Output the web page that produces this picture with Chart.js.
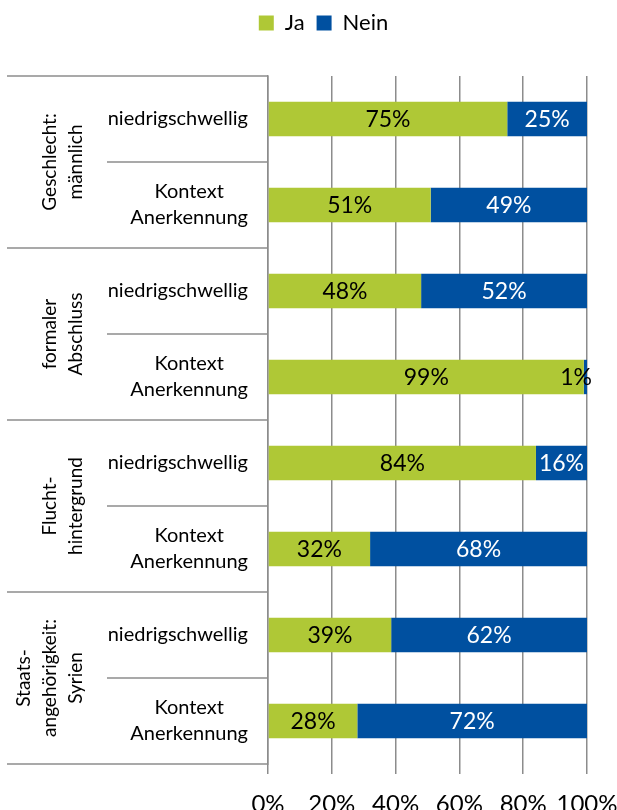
<!DOCTYPE html>
<html lang="de">
<head>
<meta charset="UTF-8">
<title>Ja / Nein</title>
<style>
  html, body { margin: 0; padding: 0; background: #fff; overflow: hidden; }
  #wrap { width: 617px; height: 830px; }
</style>
</head>
<body>
<div id="wrap"><canvas id="chart" width="617" height="830"></canvas></div>
<script src="https://cdn.jsdelivr.net/npm/chart.js@4.4.1/dist/chart.umd.min.js"></script>
<script>
// group labels (rotated, left column)
var groups = [
  ['Geschlecht:', 'männlich'],
  ['formaler', 'Abschluss'],
  ['Flucht-', 'hintergrund'],
  ['Staats-', 'angehörigkeit:', 'Syrien']
];
// one entry per bar, top to bottom
var categories = [
  ['niedrigschwellig'], ['Kontext', 'Anerkennung'],
  ['niedrigschwellig'], ['Kontext', 'Anerkennung'],
  ['niedrigschwellig'], ['Kontext', 'Anerkennung'],
  ['niedrigschwellig'], ['Kontext', 'Anerkennung']
];
var ja   = [75, 51, 48, 99, 84, 32, 39, 28];
var nein = [25, 49, 52,  1, 16, 68, 62, 72];
var xTicks = [0, 20, 40, 60, 80, 100];

var green = '#AFC836';
var blue = '#0050A0';
var lineColor = '#8c8c8c';
var fontFamily = 'Lato, "Noto Sans", sans-serif';

// 100% stacked: each row normalised to its own sum
function share(arr, i) {
  return arr[i] / (ja[i] + nein[i]) * 100;
}
var jaShare = ja.map(function(v, i) { return share(ja, i); });
var neinShare = nein.map(function(v, i) { return share(nein, i); });

var legendSpace = {
  id: 'legendSpace',
  beforeInit: function(chart) {
    if (!chart.legend) return;
    var fit = chart.legend.fit;
    chart.legend.fit = function() {
      fit.call(this);
      this.height = 76;
    };
  }
};

var barLabels = {
  id: 'barLabels',
  afterDatasetsDraw: function(chart) {
    var ctx = chart.ctx, area = chart.chartArea;
    var raw = [ja, nein];
    var colors = ['#000', '#fff'];
    ctx.save();
    ctx.font = '23px ' + fontFamily;
    ctx.textAlign = 'center';
    ctx.textBaseline = 'middle';
    chart.data.datasets.forEach(function(ds, di) {
      chart.getDatasetMeta(di).data.forEach(function(bar, i) {
        var txt = raw[di][i] + '%';
        var w = ctx.measureText(txt).width;
        var l = Math.min(bar.x, bar.base), r = Math.max(bar.x, bar.base);
        var cx = (l + r) / 2;
        var col = colors[di];
        if (r - l < w) {
          col = '#000';
          cx = Math.min(cx, area.right + 5 - w / 2);
        }
        ctx.fillStyle = col;
        ctx.fillText(txt, cx, bar.y + 1);
      });
    });
    ctx.restore();
  }
};

var sideLabels = {
  id: 'sideLabels',
  afterDraw: function(chart) {
    var ctx = chart.ctx, area = chart.chartArea, yScale = chart.scales.y;
    var n = categories.length;
    var step = (area.bottom - area.top) / n;
    ctx.save();
    ctx.strokeStyle = lineColor;
    ctx.lineWidth = 1.5;
    for (var i = 0; i <= n; i++) {
      var yy = area.top + i * step;
      var x0 = (i % 2 === 0) ? area.left - 261 : area.left - 161;
      ctx.beginPath();
      ctx.moveTo(x0, yy);
      ctx.lineTo(area.left, yy);
      ctx.stroke();
    }

    ctx.fillStyle = '#000';
    ctx.textAlign = 'center';
    ctx.textBaseline = 'middle';
    var lh = 26;

    // sub categories: block right aligned, lines centred in block
    ctx.font = '20px ' + fontFamily;
    categories.forEach(function(lines, i) {
      var cy = yScale.getPixelForValue(i);
      var bw = Math.max.apply(null, lines.map(function(t) { return ctx.measureText(t).width; }));
      var cx = area.left - 20 - bw / 2;
      lines.forEach(function(t, k) {
        ctx.fillText(t, cx, cy + (k - (lines.length - 1) / 2) * lh);
      });
    });

    // groups, rotated
    ctx.font = '19px ' + fontFamily;
    groups.forEach(function(lines, g) {
      var cy = area.top + (2 * g + 1) * step;
      var lastX = area.left - 192;
      lines.forEach(function(t, k) {
        var x = lastX - (lines.length - 1 - k) * lh;
        ctx.save();
        ctx.translate(x, cy);
        ctx.rotate(-Math.PI / 2);
        ctx.fillText(t, 0, 0);
        ctx.restore();
      });
    });
    ctx.restore();
  }
};

new Chart(document.getElementById('chart'), {
  type: 'bar',
  data: {
    labels: categories,
    datasets: [
      { label: 'Ja', data: jaShare, backgroundColor: green },
      { label: 'Nein', data: neinShare, backgroundColor: blue }
    ]
  },
  options: {
    indexAxis: 'y',
    responsive: false,
    animation: false,
    events: [],
    layout: { padding: { top: 0, left: 60, right: 30, bottom: 0 } },
    datasets: { bar: { categoryPercentage: 1, barPercentage: 0.4 } },
    scales: {
      x: {
        stacked: true,
        min: 0,
        max: 100,
        afterBuildTicks: function(s) {
          s.ticks = xTicks.map(function(v) { return { value: v }; });
        },
        afterFit: function(s) {
          s.height = 66;
          s.paddingLeft = 0;
          s.paddingRight = 0;
        },
        grid: { color: lineColor, lineWidth: 1.5, tickLength: 10, tickColor: lineColor },
        border: { display: false },
        ticks: {
          padding: 16,
          maxRotation: 0,
          minRotation: 0,
          autoSkip: false,
          color: '#000',
          font: { family: fontFamily, size: 24 },
          callback: function(v) { return v + '%'; }
        }
      },
      y: {
        stacked: true,
        grid: { display: false },
        border: { display: true, color: lineColor, width: 1.5 },
        ticks: { display: false },
        afterFit: function(s) { s.width = 208; }
      }
    },
    plugins: {
      tooltip: { enabled: false },
      legend: {
        position: 'top',
        labels: {
          boxWidth: 15,
          boxHeight: 15,
          padding: 12,
          color: '#000',
          font: { family: fontFamily, size: 22 }
        }
      }
    }
  },
  plugins: [legendSpace, barLabels, sideLabels]
});
</script>
</body>
</html>
